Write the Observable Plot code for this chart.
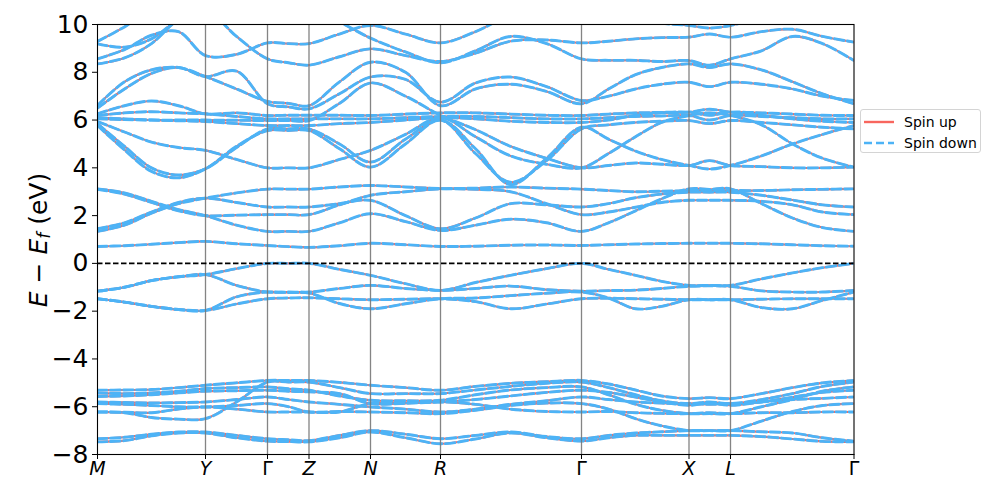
<!DOCTYPE html>
<html><head><meta charset="utf-8">
<script src="https://cdn.jsdelivr.net/npm/d3@7"></script>
<script src="https://cdn.jsdelivr.net/npm/@observablehq/plot@0.6"></script>
<style>
body{margin:0;background:#fff;font-family:"DejaVu Sans",sans-serif;}
#wrap{position:relative;width:997px;height:498px;overflow:hidden;}
#legend{position:absolute;left:860px;top:109px;width:121px;height:44px;border:1px solid #d4d4d4;border-radius:3px;background:#fff;box-sizing:border-box;}
</style></head><body>
<div id="wrap"><div id="chart"></div>
<div id="legend"><svg width="121" height="44">
<line x1="3" y1="12" x2="33" y2="12" stroke="#f8665e" stroke-width="2.4"/>
<text x="43" y="12" dominant-baseline="central" font-size="14" font-family="DejaVu Sans">Spin up</text>
<line x1="3" y1="33" x2="33" y2="33" stroke="#4db3f6" stroke-width="2.6" stroke-dasharray="8,4"/>
<text x="43" y="33" dominant-baseline="central" font-size="14" font-family="DejaVu Sans">Spin down</text>
</svg></div></div>
<script>
// k-path distances of the sampled points (arbitrary units)
const kPath = [0,0.27,0.54,0.81,1.08,1.39,1.70,1.91,2.115,2.42,2.73,3.08,3.43,3.78,4.13,4.49,4.84,5.11,5.38,5.64,5.915,6.12,6.33,6.64,6.95,7.25,7.565];
const hsIdx = [0,4,6,8,10,12,16,20,22,26];
const hsLabels = ["M","Y","Γ","Z","N","R","Γ","X","L","Γ"];
const yTicks = [-8,-6,-4,-2,0,2,4,6,8,10];

// conduction bands (eV)
const cA = [0.71,0.74,0.80,0.87,0.92,0.82,0.75,0.70,0.67,0.74,0.84,0.78,0.71,0.72,0.76,0.77,0.75,0.78,0.81,0.83,0.84,0.84,0.84,0.82,0.78,0.74,0.72];
const cB = [1.34,1.6,2.1,2.5,2.73,2.95,3.11,3.11,3.11,3.2,3.26,3.2,3.13,3.1,3.0,2.5,2.04,2.15,2.35,2.55,2.64,2.64,2.64,2.6,2.45,2.15,2.04];
const cC = [1.45,1.7,2.15,2.55,2.73,2.55,2.36,2.36,2.36,2.5,2.64,2.0,1.45,1.9,2.5,2.45,2.36,2.5,2.75,2.9,2.98,2.98,2.98,2.85,2.65,2.45,2.36];
const cD = [3.12,2.95,2.6,2.25,2.0,1.6,1.34,1.34,1.34,1.7,2.08,1.75,1.38,1.6,1.85,1.7,1.34,1.7,2.2,2.7,3.12,3.1,3.12,2.5,1.9,1.5,1.34];
const cE = [3.10,2.9,2.55,2.2,2.0,2.02,2.04,2.04,2.04,2.45,2.85,3.0,3.12,3.15,3.2,3.15,3.11,3.05,3.0,3.02,3.05,3.05,3.05,3.05,3.08,3.1,3.12];
const m1 = [5.77,4.75,3.85,3.58,3.96,4.9,5.56,5.56,5.56,4.8,4.03,5.0,6.0,4.8,3.3,4.4,5.7,5.2,4.7,4.35,4.1,3.95,4.1,4.5,5.0,5.4,5.77];
const m2 = [5.94,5.5,5.08,4.85,4.73,4.35,4.0,4.0,4.0,4.35,4.73,5.4,6.1,5.3,4.5,4.15,4.0,4.6,5.3,5.9,6.19,6.3,6.19,5.8,5.0,4.4,4.03];
const m3 = [5.85,4.9,4.0,3.7,3.96,4.85,5.63,5.63,5.63,5.0,4.24,5.2,6.0,4.6,3.4,4.3,5.63,5.8,5.9,5.95,5.98,5.85,5.98,5.9,5.8,5.7,5.63];
const m4 = [6.05,6.02,6.0,5.97,5.94,5.85,5.77,5.77,5.77,5.85,5.9,6.0,6.1,6.05,5.95,5.9,5.9,6.0,6.2,6.3,6.33,6.45,6.33,6.2,6.05,5.95,5.9];
const m5 = [6.19,6.3,6.35,6.3,6.26,6.15,6.05,6.05,6.05,6.05,6.05,6.1,6.15,6.15,6.1,6.05,6.05,6.1,6.15,6.17,6.19,6.0,6.19,6.15,6.1,6.05,6.05];
const m6 = [6.26,6.6,6.8,6.6,6.26,6.3,6.19,6.2,6.2,6.2,6.19,6.25,6.3,6.3,6.25,6.2,6.19,6.25,6.3,6.32,6.33,6.2,6.33,6.3,6.25,6.2,6.19];
const m7 = [6.5,7.3,7.95,8.2,7.82,8.05,6.68,6.55,6.47,7.1,7.8,7.7,6.75,7.55,7.8,7.4,6.82,7.0,7.3,7.5,7.58,7.4,7.58,7.5,7.3,7.0,6.82];
const m8 = [6.61,7.6,8.1,8.2,7.82,7.3,6.78,6.7,6.6,7.6,8.42,8.0,6.6,7.3,7.5,7.2,6.68,7.3,7.9,8.2,8.35,8.2,8.35,8.1,7.6,7.1,6.68];
const m9 = [6.1,6.05,6.0,6.0,6.0,5.99,5.98,5.98,5.98,6.7,7.55,7.0,6.2,5.6,4.9,4.4,4.0,4.1,4.2,4.15,4.1,4.3,4.1,4.05,4.0,4.0,4.03];
const u1 = [8.56,8.95,9.55,9.7,8.7,8.75,9.23,9.2,9.2,9.6,9.96,9.6,9.23,9.7,10.4,10.8,10.8,10.8,10.8,10.8,10.8,10.8,10.8,10.8,10.8,10.8,10.8];
const u2 = [8.35,8.6,9.2,10.2,10.6,9.5,8.56,8.4,8.3,8.65,8.98,8.7,8.45,8.8,9.3,9.35,9.23,9.3,9.4,9.45,9.47,9.6,9.47,9.7,9.8,9.5,9.26];
const u3 = [9.19,9.05,9.4,10.2,10.6,10.6,10.6,10.6,10.6,10.1,9.43,8.85,8.4,8.9,9.5,9.2,8.56,8.5,8.5,8.45,8.49,8.3,8.56,8.9,9.5,9.2,8.49];
const u4 = [9.29,9.9,10.6,10.6,10.6,10.6,10.6,10.6,10.6,10.6,10.6,10.6,10.6,10.6,10.6,10.6,10.6,10.4,10.2,10.05,9.96,9.85,9.96,10.3,10.6,10.6,10.6];
// upper valence bands
const v1 = [-1.16,-1.0,-0.72,-0.56,-0.47,-0.22,0,0,0,-0.25,-0.5,-0.85,-1.13,-0.8,-0.5,-0.22,0,-0.25,-0.5,-0.75,-0.92,-0.92,-0.92,-0.65,-0.4,-0.18,0];
const v2 = [-1.48,-1.62,-1.8,-1.93,-1.97,-1.7,-1.48,-1.45,-1.44,-1.48,-1.52,-1.5,-1.48,-1.6,-1.9,-1.7,-1.48,-1.46,-1.48,-1.5,-1.52,-1.52,-1.52,-1.5,-1.48,-1.48,-1.48];
const v3 = [-1.16,-1.0,-0.72,-0.56,-0.47,-0.92,-1.2,-1.2,-1.2,-1.05,-0.92,-1.05,-1.13,-1.05,-0.95,-1.1,-1.16,-1.14,-1.12,-1.05,-0.96,-0.94,-0.96,-1.15,-1.2,-1.2,-1.13];
const v4 = [-1.48,-1.62,-1.8,-1.93,-1.97,-1.4,-1.2,-1.22,-1.24,-1.68,-1.9,-1.69,-1.48,-1.45,-1.35,-1.25,-1.2,-1.45,-1.9,-1.8,-1.52,-1.52,-1.52,-1.85,-1.9,-1.55,-1.2];
// lower valence bands
const l1 = [-5.31,-5.3,-5.28,-5.2,-5.1,-5.0,-4.9,-4.9,-4.9,-4.98,-5.1,-5.2,-5.31,-5.15,-5.02,-4.95,-4.9,-5.05,-5.3,-5.55,-5.66,-5.62,-5.66,-5.45,-5.2,-5.0,-4.9];
const l2 = [-6.22,-6.25,-6.45,-6.52,-6.5,-5.8,-4.97,-4.97,-4.97,-5.2,-5.45,-5.45,-5.45,-5.3,-5.15,-5.02,-4.97,-5.2,-5.5,-5.75,-5.87,-5.8,-5.87,-5.7,-5.45,-5.15,-4.97];
const l3 = [-5.43,-5.45,-5.42,-5.35,-5.24,-5.2,-5.17,-5.25,-5.31,-5.55,-5.73,-5.75,-5.73,-5.5,-5.3,-5.2,-5.17,-5.5,-5.9,-6.15,-6.29,-6.29,-6.29,-6.0,-5.7,-5.35,-5.17];
const l4 = [-5.57,-5.55,-5.5,-5.42,-5.35,-5.33,-5.31,-5.35,-5.38,-5.45,-5.87,-5.85,-5.8,-5.7,-5.55,-5.4,-5.31,-5.4,-5.6,-5.8,-5.94,-5.85,-5.94,-5.8,-5.6,-5.4,-5.31];
const l5 = [-5.8,-5.82,-5.84,-5.83,-5.8,-5.7,-5.59,-5.7,-5.8,-5.9,-6.01,-6.1,-6.22,-6.1,-5.9,-5.75,-5.59,-5.7,-5.8,-5.85,-5.87,-5.9,-5.87,-5.8,-5.7,-5.65,-5.59];
const l6 = [-5.87,-5.9,-5.95,-6.0,-6.01,-5.95,-5.87,-6.0,-6.22,-6.2,-6.22,-6.25,-6.29,-6.15,-5.95,-5.85,-5.87,-6.1,-6.5,-6.8,-7.0,-7.0,-7.0,-6.6,-6.2,-5.95,-5.87];
const l7 = [-6.22,-6.23,-6.25,-6.1,-6.01,-6.1,-6.22,-6.22,-6.22,-6.22,-5.87,-5.85,-5.8,-5.9,-6.1,-6.2,-6.22,-6.2,-6.25,-6.28,-6.29,-6.25,-6.29,-6.25,-6.25,-6.22,-6.22];
const l8 = [-7.34,-7.28,-7.15,-7.06,-7.06,-7.2,-7.34,-7.38,-7.42,-7.2,-7.0,-7.15,-7.34,-7.2,-7.06,-7.25,-7.34,-7.2,-7.1,-7.05,-7.0,-7.0,-7.0,-7.05,-7.1,-7.3,-7.44];
const l9 = [-7.47,-7.42,-7.22,-7.1,-7.1,-7.3,-7.44,-7.46,-7.47,-7.3,-7.06,-7.3,-7.55,-7.35,-7.1,-7.3,-7.44,-7.3,-7.2,-7.2,-7.2,-7.2,-7.2,-7.25,-7.35,-7.45,-7.47];

const bands = {cA,cB,cC,cD,cE,m1,m2,m3,m4,m5,m6,m7,m8,m9,u1,u2,u3,u4,v1,v2,v3,v4,l1,l2,l3,l4,l5,l6,l7,l8,l9};
const rows = [];
for (const [name, arr] of Object.entries(bands)) arr.forEach((e, i) => rows.push({band: name, k: kPath[i], e}));
const hs = hsIdx.map((i, j) => ({k: kPath[i], label: hsLabels[j]}));

const RED = "#f8665e", BLUE = "#4db3f6";
const chart = Plot.plot({
  width: 997, height: 498,
  marginTop: 24, marginBottom: 44, marginLeft: 97, marginRight: 143.5,
  style: {fontFamily: '"DejaVu Sans", sans-serif', color: "black", background: "white"},
  x: {domain: [0, kPath[kPath.length - 1]], axis: null},
  y: {domain: [-8, 10], axis: null},
  marks: [
    Plot.line(rows, {x: "k", y: "e", z: "band", stroke: RED, strokeWidth: 2.1, curve: "catmull-rom", clip: true}),
    Plot.line(rows, {x: "k", y: "e", z: "band", stroke: BLUE, strokeWidth: 2.9, strokeDasharray: "9.5,3.5", curve: "catmull-rom", clip: true}),
    Plot.ruleX(hs.slice(1, -1), {x: "k", stroke: "#777777", strokeWidth: 1.3, strokeOpacity: 0.9}),
    Plot.ruleY([0], {stroke: "black", strokeWidth: 1.7, strokeDasharray: "5.5,2.5"}),
    Plot.frame({stroke: "black", strokeWidth: 1.1}),
    Plot.axisY({ticks: yTicks, tickSize: 5, tickPadding: 4, fontSize: 25, tickFormat: d => d < 0 ? "\u2212" + Math.abs(d) : String(d), label: null}),
    Plot.axisX({ticks: hs.map(d => d.k), tickSize: 5, tickFormat: () => "", label: null}),
    Plot.text(hs.filter(d => d.label !== "Γ"), {x: "k", text: "label", frameAnchor: "bottom", dy: 20, fontSize: 19, fontStyle: "italic"}),
    Plot.text(hs.filter(d => d.label === "Γ"), {x: "k", text: "label", frameAnchor: "bottom", dy: 20, fontSize: 19})
  ]
});
document.getElementById("chart").appendChild(chart);

// y-axis label with math-style subscript
const svg = d3.select(chart);
const t = svg.append("text")
  .attr("transform", "translate(38,240) rotate(-90)")
  .attr("text-anchor", "middle").attr("dominant-baseline", "central")
  .attr("font-size", 25).attr("font-family", '"DejaVu Sans", sans-serif').attr("fill", "black");
t.append("tspan").attr("font-style", "italic").text("E");
t.append("tspan").text(" \u2212 ");
t.append("tspan").attr("font-style", "italic").text("E");
t.append("tspan").attr("font-style", "italic").attr("font-size", 17).attr("dy", 6).text("f");
t.append("tspan").attr("dy", -6).text(" (eV)");
</script>
</body></html>
